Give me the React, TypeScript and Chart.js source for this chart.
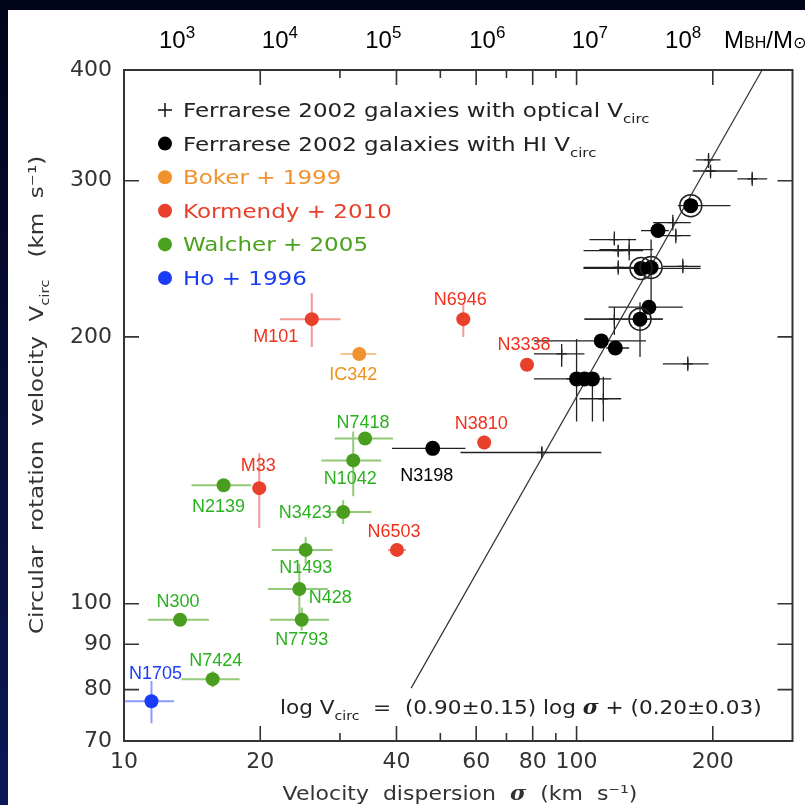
import React, { useEffect, useRef } from "react";
import { Chart, registerables } from "chart.js";
Chart.register(...registerables);

// Row: [name, sigma, Vcirc, sigmaLo, sigmaHi, VLo, VHi]
type Row = [string, number, number, number | null, number | null, number | null, number | null];

const walcher2005: Row[] = [
  ["N7424", 15.7, 82.2, 13.4, 18.0, 80.5, 83.9],
  ["N300", 13.3, 95.9, 11.3, 15.4, null, null],
  ["N7793", 24.7, 95.9, 21.0, 28.4, 93.3, 99.0],
  ["N428", 24.4, 103.9, 20.8, 28.2, 97.4, 110.9],
  ["N1493", 25.2, 115.0, 21.2, 28.9, 110.9, 118.9],
  ["N3423", 30.5, 126.9, 28.3, 35.2, 123.0, 130.8],
  ["N2139", 16.6, 136.0, 14.1, 19.1, null, null],
  ["N1042", 32.1, 145.1, 27.3, 37.0, 132.2, 156.4],
  ["N7418", 34.1, 153.6, 29.2, 39.3, null, null],
];

const kormendy2010: Row[] = [
  ["M33", 19.9, 135.0, null, null, 121.7, 147.8],
  ["M101", 26.0, 209.4, 22.1, 30.1, 194.8, 224.0],
  ["N6946", 56.2, 209.4, null, null, 199.9, 217.7],
  ["N3338", 77.7, 186.0, null, null, null, null],
  ["N3810", 62.5, 152.0, null, null, 149.3, 154.8],
  ["N6503", 40.1, 115.0, 38.3, 42.0, null, null],
];

const boker1999: Row[] = [["IC342", 33.1, 191.3, 30.1, 36.1, null, null]];

const ho1996: Row[] = [["N1705", 11.5, 77.6, 10.0, 12.9, 73.3, 81.8]];

const ferrareseHI: Row[] = [
  ["N3198", 48.1, 149.7, 39.1, 56.8, null, null],
  ["", 100.0, 179.3, 80.5, 110.0, 160.5, 198.9],
  ["", 104.1, 179.3, null, null, null, null],
  ["", 108.4, 179.3, 95.0, 119.4, 160.5, 179.3],
  ["", 113.4, 197.9, 80.5, 142.4, null, null],
  ["", 121.8, 194.3, 116.3, 130.7, null, null],
  ["", 138.1, 209.4, 104.1, 155.1, 189.8, 218.8],
  ["", 144.5, 216.0, 117.6, 171.7, null, null],
  ["", 138.8, 238.9, 103.6, 188.0, null, null],
  ["", 146.1, 239.5, null, null, 218.8, 257.5],
  ["", 151.3, 263.6, 138.8, 159.9, 259.0, 268.0],
  ["", 178.8, 281.2, 167.4, 218.8, null, null],
];

// HI galaxies marked with an extra ring: [sigma, Vcirc]
const ringedHI: [number, number][] = [
  [178.8, 281.2],
  [138.8, 238.9],
  [146.1, 239.5],
  [138.1, 209.4],
];

const ferrareseOptical: Row[] = [
  ["", 195.7, 316.7, 183.4, 208.0, 310.2, 322.4],
  ["", 197.7, 307.7, 180.6, 226.6, 302.0, 313.0],
  ["", 244.4, 301.5, 226.6, 263.7, 296.0, 307.0],
  ["", 163.2, 269.1, 147.6, 178.8, 263.6, 274.7],
  ["", 165.7, 260.2, 155.1, 178.8, 255.0, 265.0],
  ["", 121.2, 257.5, 106.8, 135.4, 253.5, 263.0],
  ["", 123.6, 250.2, 103.6, 140.3, 246.0, 254.0],
  ["", 130.7, 250.8, 112.3, 147.6, 244.0, 258.0],
  ["", 123.6, 239.5, 103.6, 135.4, 235.0, 244.0],
  ["", 171.7, 240.2, 155.1, 188.0, 236.0, 245.0],
  ["", 121.2, 209.4, 104.1, 155.1, 200.9, 216.0],
  ["", 92.7, 191.3, 80.5, 104.1, 185.0, 196.3],
  ["", 176.1, 186.4, 155.1, 195.7, 183.0, 190.0],
  ["", 114.6, 170.3, 101.5, 125.5, 160.5, 180.3],
  ["", 83.8, 148.1, 55.4, 113.4, 146.0, 150.5],
];

// Fitted relation as drawn: endpoints [sigma, Vcirc]
const fitLine: [number, number][] = [
  [43.1, 80.3],
  [257, 400],
];

const xTickValues = [10, 20, 30, 40, 50, 60, 70, 80, 90, 100, 200, 300];
const xTickLabels = [10, 20, 40, 60, 80, 100, 200];
const yTickValues = [70, 80, 90, 100, 200, 300, 400];

// Black hole mass scale on top: exponent and the sigma it sits above
const mbhExponents = [3, 4, 5, 6, 7, 8];
const mbhSigma = [13.1, 22.1, 37.4, 63.5, 107, 172];

const legendItems = [
  { text: "Ferrarese 2002 galaxies with optical V", sub: "circ", marker: "cross", color: "#111111", textColor: "#222222" },
  { text: "Ferrarese 2002 galaxies with HI V", sub: "circ", marker: "dot", color: "#000000", textColor: "#222222" },
  { text: "Boker + 1999", sub: "", marker: "dot", color: "#f0922e", textColor: "#f0922e" },
  { text: "Kormendy + 2010", sub: "", marker: "dot", color: "#e8402a", textColor: "#e8402a" },
  { text: "Walcher + 2005", sub: "", marker: "dot", color: "#4ca21f", textColor: "#4ca21f" },
  { text: "Ho + 1996", sub: "", marker: "dot", color: "#1a3cf5", textColor: "#1a3cf5" },
];

// label offsets (pixels) relative to the point
const labelOffsets: Record<string, [number, number]> = {
  N1705: [4, -27], N7424: [3, -18], N300: [-2, -18], N7793: [0, 20], N428: [31, 9],
  N1493: [0, 18], N3423: [-38, 1], N2139: [-5, 22], N1042: [-3, 19], N7418: [-2, -15],
  M33: [-1, -22], M101: [-36, 18], IC342: [-6, 21], N6946: [-3, -19], N3338: [-3, -20],
  N3810: [-3, -18], N6503: [-3, -18], N3198: [-6, 28],
};

const W = 805;
const H = 805;
const AXIS_COLOR = "#333333";
const WIDE = 1.15;

type Seg = { t: string; font: string; dy?: number };
function drawSegs(
  ctx: CanvasRenderingContext2D,
  segs: Seg[],
  x: number,
  y: number,
  align: "left" | "center" = "left",
  sx = 1
) {
  let total = 0;
  for (const s of segs) {
    ctx.font = s.font;
    total += ctx.measureText(s.t).width;
  }
  const start = align === "center" ? x - (total * sx) / 2 : x;
  ctx.save();
  ctx.translate(start, y);
  ctx.scale(sx, 1);
  ctx.textAlign = "left";
  let cx = 0;
  for (const s of segs) {
    ctx.font = s.font;
    ctx.fillText(s.t, cx, s.dy || 0);
    cx += ctx.measureText(s.t).width;
  }
  ctx.restore();
}

const seriesStyles = [
  { rows: ferrareseOptical, bar: "#222222", barW: 1.3, label: "#000000" },
  { rows: ferrareseHI, bar: "#222222", barW: 1.3, label: "#000000" },
  { rows: boker1999, bar: "#f7c590", barW: 2, label: "#f0901c" },
  { rows: kormendy2010, bar: "#f29a92", barW: 2, label: "#f0301c" },
  { rows: walcher2005, bar: "#93c97a", barW: 2, label: "#2ab21e" },
  { rows: ho1996, bar: "#8a9cff", barW: 2, label: "#1a3cf5" },
];

const customPlugin = {
  id: "customDraw",
  beforeDraw(chart: any) {
    const ctx: CanvasRenderingContext2D = chart.ctx;
    ctx.save();
    const g = ctx.createLinearGradient(0, 0, 0, H);
    g.addColorStop(0, "#02041a");
    g.addColorStop(1, "#0b1856");
    ctx.fillStyle = g;
    ctx.fillRect(0, 0, W, H);
    ctx.fillStyle = "#ffffff";
    ctx.fillRect(8, 10, W - 8, H - 10);
    ctx.restore();
  },
  beforeDatasetsDraw(chart: any) {
    const ctx: CanvasRenderingContext2D = chart.ctx;
    const xs = chart.scales.x;
    const ys = chart.scales.y;
    const ca = chart.chartArea;
    ctx.save();
    ctx.beginPath();
    ctx.rect(ca.left, ca.top, ca.right - ca.left, ca.bottom - ca.top);
    ctx.clip();
    for (const st of seriesStyles) {
      ctx.strokeStyle = st.bar;
      ctx.lineWidth = st.barW;
      for (const r of st.rows) {
        const px = xs.getPixelForValue(r[1]);
        const py = ys.getPixelForValue(r[2]);
        ctx.beginPath();
        if (r[3] != null && r[4] != null) {
          ctx.moveTo(xs.getPixelForValue(r[3]), py);
          ctx.lineTo(xs.getPixelForValue(r[4]), py);
        }
        if (r[5] != null && r[6] != null) {
          ctx.moveTo(px, ys.getPixelForValue(r[5]));
          ctx.lineTo(px, ys.getPixelForValue(r[6]));
        }
        ctx.stroke();
      }
    }
    ctx.restore();
  },
  afterDatasetsDraw(chart: any) {
    const ctx: CanvasRenderingContext2D = chart.ctx;
    const xs = chart.scales.x;
    const ys = chart.scales.y;
    const ca = chart.chartArea;
    ctx.save();
    // point labels
    ctx.font = "18px 'Liberation Sans', Arial, sans-serif";
    ctx.textAlign = "center";
    ctx.textBaseline = "middle";
    for (const st of seriesStyles) {
      ctx.fillStyle = st.label;
      for (const r of st.rows) {
        if (!r[0]) continue;
        const off = labelOffsets[r[0]] || [0, -18];
        ctx.fillText(r[0], xs.getPixelForValue(r[1]) + off[0], ys.getPixelForValue(r[2]) + off[1]);
      }
    }

    // frame
    ctx.strokeStyle = AXIS_COLOR;
    ctx.lineWidth = 2;
    ctx.strokeRect(ca.left, ca.top, ca.right - ca.left, ca.bottom - ca.top);

    // ticks
    ctx.lineWidth = 1.6;
    ctx.beginPath();
    for (const v of xTickValues) {
      const x = xs.getPixelForValue(v);
      if (x <= ca.left + 1 || x >= ca.right - 1) continue;
      const len = xTickLabels.includes(v) ? 15 : 8;
      ctx.moveTo(x, ca.bottom);
      ctx.lineTo(x, ca.bottom - len);
      ctx.moveTo(x, ca.top);
      ctx.lineTo(x, ca.top + len);
    }
    for (const v of yTickValues) {
      const y = ys.getPixelForValue(v);
      if (y <= ca.top + 1 || y >= ca.bottom - 1) continue;
      ctx.moveTo(ca.left, y);
      ctx.lineTo(ca.left + 15, y);
      ctx.moveTo(ca.right, y);
      ctx.lineTo(ca.right - 15, y);
    }
    ctx.stroke();

    // legend
    const lx = 165;
    let ly = 110;
    ctx.textBaseline = "alphabetic";
    for (const it of legendItems) {
      if (it.marker === "cross") {
        ctx.strokeStyle = it.color;
        ctx.lineWidth = 1.5;
        ctx.beginPath();
        ctx.moveTo(lx - 7, ly);
        ctx.lineTo(lx + 7, ly);
        ctx.moveTo(lx, ly - 7);
        ctx.lineTo(lx, ly + 7);
        ctx.stroke();
      } else {
        ctx.fillStyle = it.color;
        ctx.beginPath();
        ctx.arc(lx, ly, 7, 0, Math.PI * 2);
        ctx.fill();
      }
      ctx.fillStyle = it.textColor;
      const segs: Seg[] = [{ t: it.text, font: "20px 'DejaVu Sans'" }];
      if (it.sub) segs.push({ t: it.sub, font: "13px 'DejaVu Sans'", dy: 6 });
      drawSegs(ctx, segs, 183, ly + 7, "left", WIDE);
      ly += 33.6;
    }

    // equation
    ctx.fillStyle = "#222222";
    drawSegs(
      ctx,
      [
        { t: "log V", font: "20px 'DejaVu Sans'" },
        { t: "circ", font: "13px 'DejaVu Sans'", dy: 6 },
        { t: "  =  (0.90\u00b10.15) log ", font: "20px 'DejaVu Sans'" },
        { t: "\u03c3", font: "italic bold 20px 'DejaVu Serif'" },
        { t: " + (0.20\u00b10.03)", font: "20px 'DejaVu Sans'" },
      ],
      280,
      714,
      "left",
      1.08
    );

    // x title
    ctx.fillStyle = "#333333";
    drawSegs(
      ctx,
      [
        { t: "Velocity  dispersion  ", font: "20px 'DejaVu Sans'" },
        { t: "\u03c3", font: "italic bold 20px 'DejaVu Serif'" },
        { t: "  (km  s\u207b\u00b9)", font: "20px 'DejaVu Sans'" },
      ],
      460,
      800,
      "center",
      1.1
    );

    // y title
    ctx.save();
    ctx.translate(43, 395);
    ctx.rotate(-Math.PI / 2);
    drawSegs(
      ctx,
      [
        { t: "Circular  rotation  velocity  V", font: "20px 'DejaVu Sans'" },
        { t: "circ", font: "13px 'DejaVu Sans'", dy: 6 },
        { t: "   (km  s\u207b\u00b9)", font: "20px 'DejaVu Sans'" },
      ],
      0,
      0,
      "center",
      WIDE
    );
    ctx.restore();

    // top black hole mass scale
    ctx.fillStyle = "#000000";
    for (let i = 0; i < mbhExponents.length; i++) {
      const cx = xs.getPixelForValue(mbhSigma[i]);
      const big = "24px 'Liberation Sans', Arial";
      const small = "17px 'Liberation Sans', Arial";
      drawSegs(ctx, [{ t: "10", font: big }, { t: String(mbhExponents[i]), font: small, dy: -10 }], cx, 48, "center");
    }
    drawSegs(
      ctx,
      [
        { t: "M", font: "24px 'Liberation Sans', Arial" },
        { t: "BH", font: "16px 'Liberation Sans', Arial" },
        { t: "/M", font: "24px 'Liberation Sans', Arial" },
        { t: "\u2299", font: "16px 'DejaVu Sans'" },
      ],
      724,
      48
    );
    ctx.restore();
  },
};

function rowsToPoints(rows: Row[]) {
  return rows.map((r) => ({ x: r[1], y: r[2] }));
}

function zeroPadding(s: any) {
  s.paddingLeft = 0;
  s.paddingRight = 0;
  s.paddingTop = 0;
  s.paddingBottom = 0;
}

export default function App() {
  const ref = useRef<HTMLCanvasElement | null>(null);
  useEffect(() => {
    if (!ref.current) return;
    const chart = new Chart(ref.current, {
      type: "scatter",
      data: {
        datasets: [
          {
            label: "ring",
            data: ringedHI.map(([x, y]) => ({ x, y })),
            pointRadius: 11,
            pointBorderWidth: 1.5,
            pointBackgroundColor: "rgba(0,0,0,0)",
            pointBorderColor: "#222222",
            order: 0,
          } as any,
          {
            label: "Ferrarese 2002 HI",
            data: rowsToPoints(ferrareseHI),
            pointRadius: 7.5,
            pointBackgroundColor: "#000000",
            pointBorderColor: "#000000",
            pointBorderWidth: 0,
            order: 1,
          },
          {
            label: "Ferrarese 2002 optical",
            data: rowsToPoints(ferrareseOptical),
            pointStyle: "cross",
            pointRadius: 5,
            pointBorderColor: "#222222",
            pointBorderWidth: 1.3,
            order: 2,
          },
          {
            label: "Boker + 1999",
            data: rowsToPoints(boker1999),
            pointRadius: 7,
            pointBackgroundColor: "#f0922e",
            pointBorderWidth: 0,
            order: 1,
          },
          {
            label: "Kormendy + 2010",
            data: rowsToPoints(kormendy2010),
            pointRadius: 7,
            pointBackgroundColor: "#e8402a",
            pointBorderWidth: 0,
            order: 1,
          },
          {
            label: "Walcher + 2005",
            data: rowsToPoints(walcher2005),
            pointRadius: 7,
            pointBackgroundColor: "#4a9e1f",
            pointBorderWidth: 0,
            order: 1,
          },
          {
            label: "Ho + 1996",
            data: rowsToPoints(ho1996),
            pointRadius: 7,
            pointBackgroundColor: "#1a3cf5",
            pointBorderWidth: 0,
            order: 1,
          },
          {
            type: "line",
            label: "fit",
            data: fitLine.map(([x, y]) => ({ x, y })),
            borderColor: "#333333",
            borderWidth: 1.2,
            pointRadius: 0,
            showLine: true,
            fill: false,
            order: 5,
          } as any,
        ],
      },
      options: {
        responsive: false,
        animation: false,
        devicePixelRatio: 1,
        layout: { padding: { top: 70, right: 7, left: 0, bottom: 0 } },
        plugins: { legend: { display: false }, tooltip: { enabled: false } },
        scales: {
          x: {
            type: "logarithmic",
            min: 10,
            max: 300,
            grid: { display: false, drawTicks: false },
            border: { display: false },
            afterBuildTicks: (s: any) => {
              s.ticks = xTickValues.map((v) => ({ value: v }));
            },
            afterFit: (s: any) => {
              s.height = 64;
              zeroPadding(s);
            },
            ticks: {
              autoSkip: false,
              maxRotation: 0,
              minRotation: 0,
              padding: 8,
              color: AXIS_COLOR,
              font: { family: "DejaVu Sans", size: 22 },
              callback: (v: any) => (xTickLabels.includes(Number(v)) ? String(v) : ""),
            },
          },
          y: {
            type: "logarithmic",
            min: 70,
            max: 400,
            grid: { display: false, drawTicks: false },
            border: { display: false },
            afterBuildTicks: (s: any) => {
              s.ticks = yTickValues.map((v) => ({ value: v }));
            },
            afterFit: (s: any) => {
              s.width = 124;
              zeroPadding(s);
            },
            ticks: {
              autoSkip: false,
              padding: 12,
              color: AXIS_COLOR,
              font: { family: "DejaVu Sans", size: 22 },
              callback: (v: any) => String(v),
            },
          },
        },
      },
      plugins: [customPlugin],
    });
    return () => chart.destroy();
  }, []);
  return (
    <div style={{ position: "absolute", left: 0, top: 0, width: W, height: H }}>
      <canvas ref={ref} width={W} height={H} style={{ width: W, height: H, display: "block" }} />
    </div>
  );
}
